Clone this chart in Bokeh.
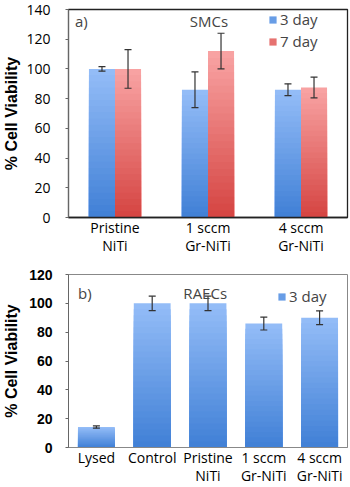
from bokeh.plotting import figure
from bokeh.layouts import column
from bokeh.models import (ColumnDataSource, FactorRange, Range1d,
                          Legend, LegendItem, Label, FixedTicker)
from bokeh.transform import dodge
from bokeh.embed import file_html
from bokeh.resources import INLINE

# ---------------- data ----------------
smc_groups = ["Pristine\nNiTi", "1 sccm\nGr-NiTi", "4 sccm\nGr-NiTi"]
smc_day3 = [100, 86, 86]
smc_day3_err = [1.5, 12, 4]
smc_day7 = [100, 112, 87.5]
smc_day7_err = [13, 12, 7]

raec_groups = ["Lysed", "Control", "Pristine\nNiTi", "1 sccm\nGr-NiTi", "4 sccm\nGr-NiTi"]
raec_day3 = [14.2, 100, 100, 86, 90]
raec_day3_err = [0.8, 5, 5, 4.5, 4.8]

series_names = ["3 day", "7 day"]
smc_ticks = [0, 20, 40, 60, 80, 100, 120, 140]
raec_ticks = [0, 20, 40, 60, 80, 100, 120]

BLUE = ((0x93, 0xBC, 0xF7), (0x3E, 0x7E, 0xD5))
RED = ((0xF8, 0xA2, 0xA2), (0xD4, 0x42, 0x3F))
NSTEPS = 24
ERR = "#333333"
FONT = "Open Sans"


def hexc(c):
    return "#%02x%02x%02x" % tuple(int(round(v)) for v in c)


def mix(a, b, t):
    return tuple(a[i] + (b[i] - a[i]) * t for i in range(3))


def gradient_bars(p, cats, vals, offset, width, colors):
    """Vertical gradient: full bar in top colour, then shorter, darker bars on top."""
    mid = None
    for k in range(NSTEPS, 0, -1):
        frac = k / NSTEPS
        t = 1 - frac
        src = ColumnDataSource(dict(cat=cats, top=[v * frac for v in vals]))
        r = p.vbar(x=dodge("cat", offset, range=p.x_range), top="top", width=width,
                   source=src, fill_color=hexc(mix(colors[0], colors[1], t)),
                   line_color=None)
        if k == NSTEPS // 2:
            mid = r
    return mid


def error_bars(p, cats, vals, errs, offset):
    src = ColumnDataSource(dict(cat=cats,
                                upper=[v + e for v, e in zip(vals, errs)],
                                lower=[v - e for v, e in zip(vals, errs)]))
    xx = dodge("cat", offset, range=p.x_range)
    p.segment(x0=xx, x1=xx, y0="lower", y1="upper", source=src,
              line_color=ERR, line_width=1.2)
    p.scatter(x=xx, y="upper", source=src, marker="dash", size=7,
              line_color=ERR, line_width=1.2)
    p.scatter(x=xx, y="lower", source=src, marker="dash", size=7,
              line_color=ERR, line_width=1.2)


def style(p, bold_ticks):
    p.xgrid.visible = False
    p.ygrid.visible = False
    p.background_fill_color = "white"
    p.border_fill_color = "white"
    p.yaxis.axis_label = "% Cell Viability"
    p.yaxis.axis_label_text_font = "Liberation Sans"
    p.yaxis.axis_label_text_font_style = "bold"
    p.yaxis.axis_label_text_font_size = "16px"
    p.yaxis.axis_label_text_color = "black"
    p.yaxis.major_label_text_font = "Liberation Sans" if bold_ticks else FONT
    p.yaxis.major_label_text_font_style = "bold" if bold_ticks else "normal"
    p.yaxis.major_label_text_color = "black"
    p.yaxis.minor_tick_line_color = None
    p.yaxis.major_tick_in = 0
    p.yaxis.major_tick_out = 3
    p.yaxis.axis_line_color = "#666666"
    p.yaxis.major_tick_line_color = "#666666"
    p.xaxis.major_label_text_font = FONT
    p.xaxis.major_label_text_font_size = "14px"
    p.xaxis.major_label_text_line_height = 0.97
    p.xaxis.major_label_text_color = "black"
    p.xaxis.major_tick_line_color = None
    p.xaxis.major_tick_in = 0
    p.xaxis.major_tick_out = 0
    p.xaxis.axis_line_color = "#222222"
    p.xaxis.axis_line_width = 1.5
    p.xaxis.major_label_standoff = 0


# ---------------- panel a ----------------
pa = figure(width=350, height=257, output_backend="svg", toolbar_location=None,
            x_range=FactorRange(*smc_groups, range_padding=0),
            y_range=Range1d(0, 140))
pa.min_border_left = 60
pa.min_border_right = 3
pa.min_border_top = 9
pa.min_border_bottom = 36
pa.outline_line_color = "#222222"
pa.outline_line_width = 1.3
style(pa, False)
pa.yaxis.major_label_text_font_size = "14px"
pa.yaxis.ticker = FixedTicker(ticks=smc_ticks)
pa.yaxis.major_label_standoff = 15
pa.yaxis.axis_label_standoff = 3

ra = gradient_bars(pa, smc_groups, smc_day3, -0.14, 0.28, BLUE)
rb = gradient_bars(pa, smc_groups, smc_day7, 0.14, 0.28, RED)
error_bars(pa, smc_groups, smc_day3, smc_day3_err, -0.14)
error_bars(pa, smc_groups, smc_day7, smc_day7_err, 0.14)

leg_a = Legend(items=[LegendItem(label=series_names[0], renderers=[ra]),
                      LegendItem(label=series_names[1], renderers=[rb])],
               location=(200, 166), border_line_color=None, background_fill_alpha=0,
               label_text_font=FONT, label_text_font_size="15px",
               glyph_width=9, glyph_height=9, spacing=2, padding=2,
               label_standoff=3, label_height=18)
pa.add_layout(leg_a)

pa.add_layout(Label(x=0.07, y=132, text="a)", text_font=FONT, text_font_size="15px",
                    text_baseline="middle", text_align="left"))
pa.add_layout(Label(x=1.51, y=132, text="SMCs", text_font=FONT, text_font_size="15px",
                    text_baseline="middle", text_align="center"))

# ---------------- panel b ----------------
pb = figure(width=350, height=230, output_backend="svg", toolbar_location=None,
            x_range=FactorRange(*raec_groups, range_padding=0),
            y_range=Range1d(0, 120))
pb.min_border_left = 60
pb.min_border_right = 3
pb.min_border_top = 17
pb.min_border_bottom = 37
pb.outline_line_color = "#888888"
pb.outline_line_width = 1
style(pb, True)
pb.yaxis.major_label_text_font_size = "14px"
pb.yaxis.ticker = FixedTicker(ticks=raec_ticks)
pb.yaxis.major_label_standoff = 13
pb.yaxis.axis_label_standoff = 6
pb.xaxis.axis_line_color = "#888888"
pb.xaxis.axis_line_width = 1.2

rc = gradient_bars(pb, raec_groups, raec_day3, 0, 0.66, BLUE)
error_bars(pb, raec_groups, raec_day3, raec_day3_err, 0)

leg_b = Legend(items=[LegendItem(label=series_names[0], renderers=[rc])],
               location=(209, 141), border_line_color=None, background_fill_alpha=0,
               label_text_font=FONT, label_text_font_size="15px",
               glyph_width=9, glyph_height=9, padding=2, label_standoff=3,
               label_height=18)
pb.add_layout(leg_b)

pb.add_layout(Label(x=0.17, y=107, text="b)", text_font=FONT, text_font_size="15px",
                    text_baseline="middle", text_align="left"))
pb.add_layout(Label(x=2.45, y=107, text="RAECs", text_font=FONT, text_font_size="15px",
                    text_baseline="middle", text_align="center"))

layout = column(pa, pb, spacing=0)
open("out.html", "w").write(file_html(layout, INLINE))
